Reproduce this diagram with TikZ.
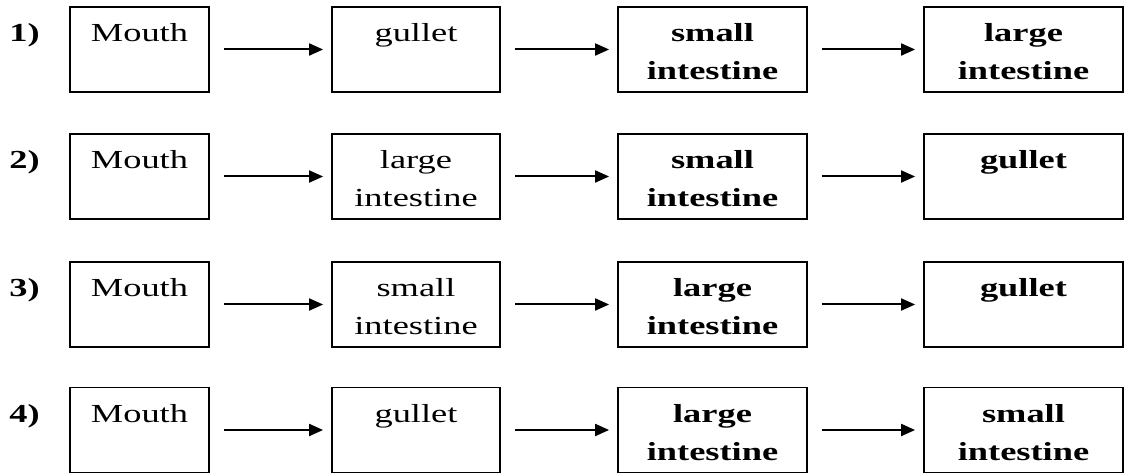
\documentclass[tikz,border=0pt]{standalone}
\usepackage{fontspec}
\setmainfont{Liberation Serif}
\usepackage{graphicx}
\usetikzlibrary{arrows.meta,positioning}
\newcommand{\wide}[1]{\scalebox{1.4}[1]{#1}}
\newcommand{\twoline}[2]{\begin{tabular}[t]{@{}c@{}}\wide{#1}\\\wide{#2}\end{tabular}}

\begin{document}
\begin{tikzpicture}[x=0.5pt, y=-0.5pt, >={Triangle[length=7pt,width=6pt]},
        font=\fontsize{13}{19}\selectfont,
        organ/.style={draw, line width=0.9pt, inner sep=0pt, text height=17.5pt, text depth=25pt},
        colA/.style={organ, minimum width=69.5pt},
        colB/.style={organ, minimum width=84pt},
        colC/.style={organ, minimum width=94.5pt, font=\fontsize{13}{19}\selectfont\bfseries},
        colD/.style={organ, minimum width=99.5pt, font=\fontsize{13}{19}\selectfont\bfseries},
        flow/.style={->, line width=1pt, shorten <=7pt, shorten >=4pt},
        rowlabel/.style={font=\fontsize{13}{19}\selectfont\bfseries, inner sep=0pt}]
        \useasboundingbox (0,0) rectangle (1126,475);
        % Row 1
        \node[colA] (r1a) at (139.5, 49.5) {\wide{Mouth}};
        \node[colB] (r1b) at (416, 49.5) {\wide{gullet}};
        \node[colC] (r1c) at (712.5, 49.5) {\twoline{small}{intestine}};
        \node[colD] (r1d) at (1023.5, 49.5) {\twoline{large}{intestine}};
        \node[rowlabel, base left=14.5pt of r1a.base west] (n1) {\wide{1)}};
        \draw[flow] (r1a) -- (r1b);
        \draw[flow] (r1b) -- (r1c);
        \draw[flow] (r1c) -- (r1d);
        % Row 2
        \node[colA] (r2a) at (139.5, 176.5) {\wide{Mouth}};
        \node[colB] (r2b) at (416, 176.5) {\twoline{large}{intestine}};
        \node[colC] (r2c) at (712.5, 176.5) {\twoline{small}{intestine}};
        \node[colD] (r2d) at (1023.5, 176.5) {\wide{gullet}};
        \node[rowlabel, base left=14.5pt of r2a.base west] (n2) {\wide{2)}};
        \draw[flow] (r2a) -- (r2b);
        \draw[flow] (r2b) -- (r2c);
        \draw[flow] (r2c) -- (r2d);
        % Row 3
        \node[colA] (r3a) at (139.5, 304.5) {\wide{Mouth}};
        \node[colB] (r3b) at (416, 304.5) {\twoline{small}{intestine}};
        \node[colC] (r3c) at (712.5, 304.5) {\twoline{large}{intestine}};
        \node[colD] (r3d) at (1023.5, 304.5) {\wide{gullet}};
        \node[rowlabel, base left=14.5pt of r3a.base west] (n3) {\wide{3)}};
        \draw[flow] (r3a) -- (r3b);
        \draw[flow] (r3b) -- (r3c);
        \draw[flow] (r3c) -- (r3d);
        % Row 4
        \node[colA] (r4a) at (139.5, 430) {\wide{Mouth}};
        \node[colB] (r4b) at (416, 430) {\wide{gullet}};
        \node[colC] (r4c) at (712.5, 430) {\twoline{large}{intestine}};
        \node[colD] (r4d) at (1023.5, 430) {\twoline{small}{intestine}};
        \node[rowlabel, base left=14.5pt of r4a.base west] (n4) {\wide{4)}};
        \draw[flow] (r4a) -- (r4b);
        \draw[flow] (r4b) -- (r4c);
        \draw[flow] (r4c) -- (r4d);
\end{tikzpicture}
\end{document}
